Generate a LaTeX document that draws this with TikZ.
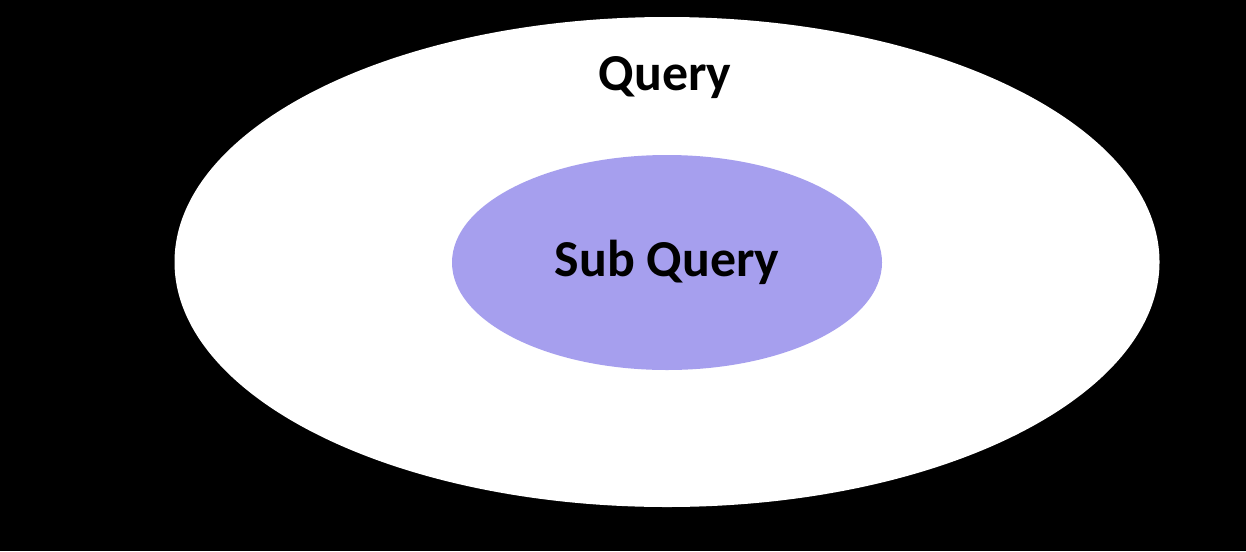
\documentclass[tikz,border=0pt]{standalone}
\usepackage{fontspec}
\setmainfont{Carlito}
\usepackage{xcolor}
\usetikzlibrary{shapes.geometric}
\definecolor{subfill}{HTML}{A69FEE}

\begin{document}
\begin{tikzpicture}
\tikzstyle{every node}=[font=\fontsize{29.5}{34}\selectfont\bfseries]
\tikzstyle{blob}=[ellipse, inner sep=0pt]
\fill [black] (0,0) rectangle (24.92,-11.02);
\node [blob, fill=white, minimum width=19.7cm, minimum height=9.8cm] (outer) at (13.34,-5.24) {};
\node [blob, fill=subfill, minimum width=8.6cm, minimum height=4.3cm] (inner) at (13.34,-5.25) {Sub Query};
\node (query) at (13.3,-1.56) {Query};
\end{tikzpicture}
\end{document}
